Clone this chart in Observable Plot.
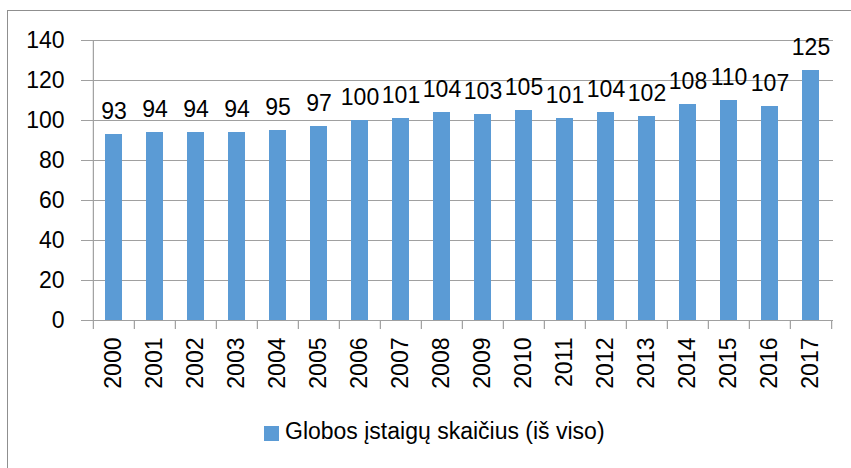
<!DOCTYPE html>
<html>
<head>
<meta charset="utf-8">
<script src="https://cdn.jsdelivr.net/npm/d3@7"></script>
<script src="https://cdn.jsdelivr.net/npm/@observablehq/plot@0.6"></script>
<style>
  html, body { margin: 0; padding: 0; background: #fff; overflow: hidden; }
  #wrap { position: relative; width: 851px; height: 468px; overflow: hidden; font-family: "Liberation Sans", Arial, sans-serif; }
  #frame { position: absolute; left: 7px; top: 10px; width: 900px; height: 500px; border: 1px solid #8f8f8f; box-sizing: border-box; }
  #chart { position: absolute; left: 0; top: 0; }
  #legend { position: absolute; left: 264px; top: 418px; display: flex; align-items: center; font-size: 23px; color: #000; white-space: nowrap; }
  #legend .sw { width: 15px; height: 15px; background: #5B9BD5; margin-right: 6px; margin-top: 3px; }
</style>
</head>
<body>
<div id="wrap">
  <div id="frame"></div>
  <div id="chart"></div>
  <div id="legend"><div class="sw"></div><span id="legtext"></span></div>
</div>
<script>
const years = ["2000","2001","2002","2003","2004","2005","2006","2007","2008","2009","2010","2011","2012","2013","2014","2015","2016","2017"];
const values = [93,94,94,94,95,97,100,101,104,103,105,101,104,102,108,110,107,125];
const yTicks = [0,20,40,60,80,100,120,140];
const seriesName = "Globos įstaigų skaičius (iš viso)";

const data = years.map((y, i) => ({year: y, value: values[i]}));
const W = 851, H = 400;
const mL = 90, mR = 18, mT = 40, mB = 80;
const bw = (W - mL - mR) / years.length;
const gray = "#a0a0a0";

const chart = Plot.plot({
  width: W,
  height: H,
  marginLeft: mL,
  marginRight: mR,
  marginTop: mT,
  marginBottom: mB,
  style: {fontFamily: "'Liberation Sans', Arial, sans-serif", fontSize: "23px", color: "#000", background: "transparent", overflow: "visible"},
  x: {type: "band", domain: years, padding: 0.59, paddingOuter: 0.295, align: 0.5},
  y: {domain: [0, 140]},
  marks: [
    Plot.ruleY(yTicks, {y: d => d, stroke: gray, strokeWidth: 1.2, insetLeft: -9}),
    Plot.ruleX([years[0]], {x: d => d, y1: -4.5, y2: 140, dx: -bw / 2, stroke: gray, strokeWidth: 1.2}),
    Plot.barY(data, {x: "year", y: "value", fill: "#5B9BD5"}),
    Plot.ruleX(years.slice(1), {x: d => d, y1: 0, y2: -4.5, dx: -bw / 2, stroke: gray, strokeWidth: 1.2}),
    Plot.ruleX([years[years.length - 1]], {x: d => d, y1: 0, y2: -4.5, dx: bw / 2, stroke: gray, strokeWidth: 1.2}),
    Plot.text(data, {x: "year", y: "value", text: d => String(d.value), lineAnchor: "bottom", dy: -16, fill: "#000", fontSize: 23}),
    Plot.axisX({tickSize: 0, tickPadding: 17, tickRotate: -90, fontSize: 23, label: null}),
    Plot.axisY(yTicks, {tickSize: 0, tickPadding: 26, fontSize: 23, label: null})
  ]
});
document.getElementById("chart").appendChild(chart);
document.getElementById("legtext").textContent = seriesName;
</script>
</body>
</html>
